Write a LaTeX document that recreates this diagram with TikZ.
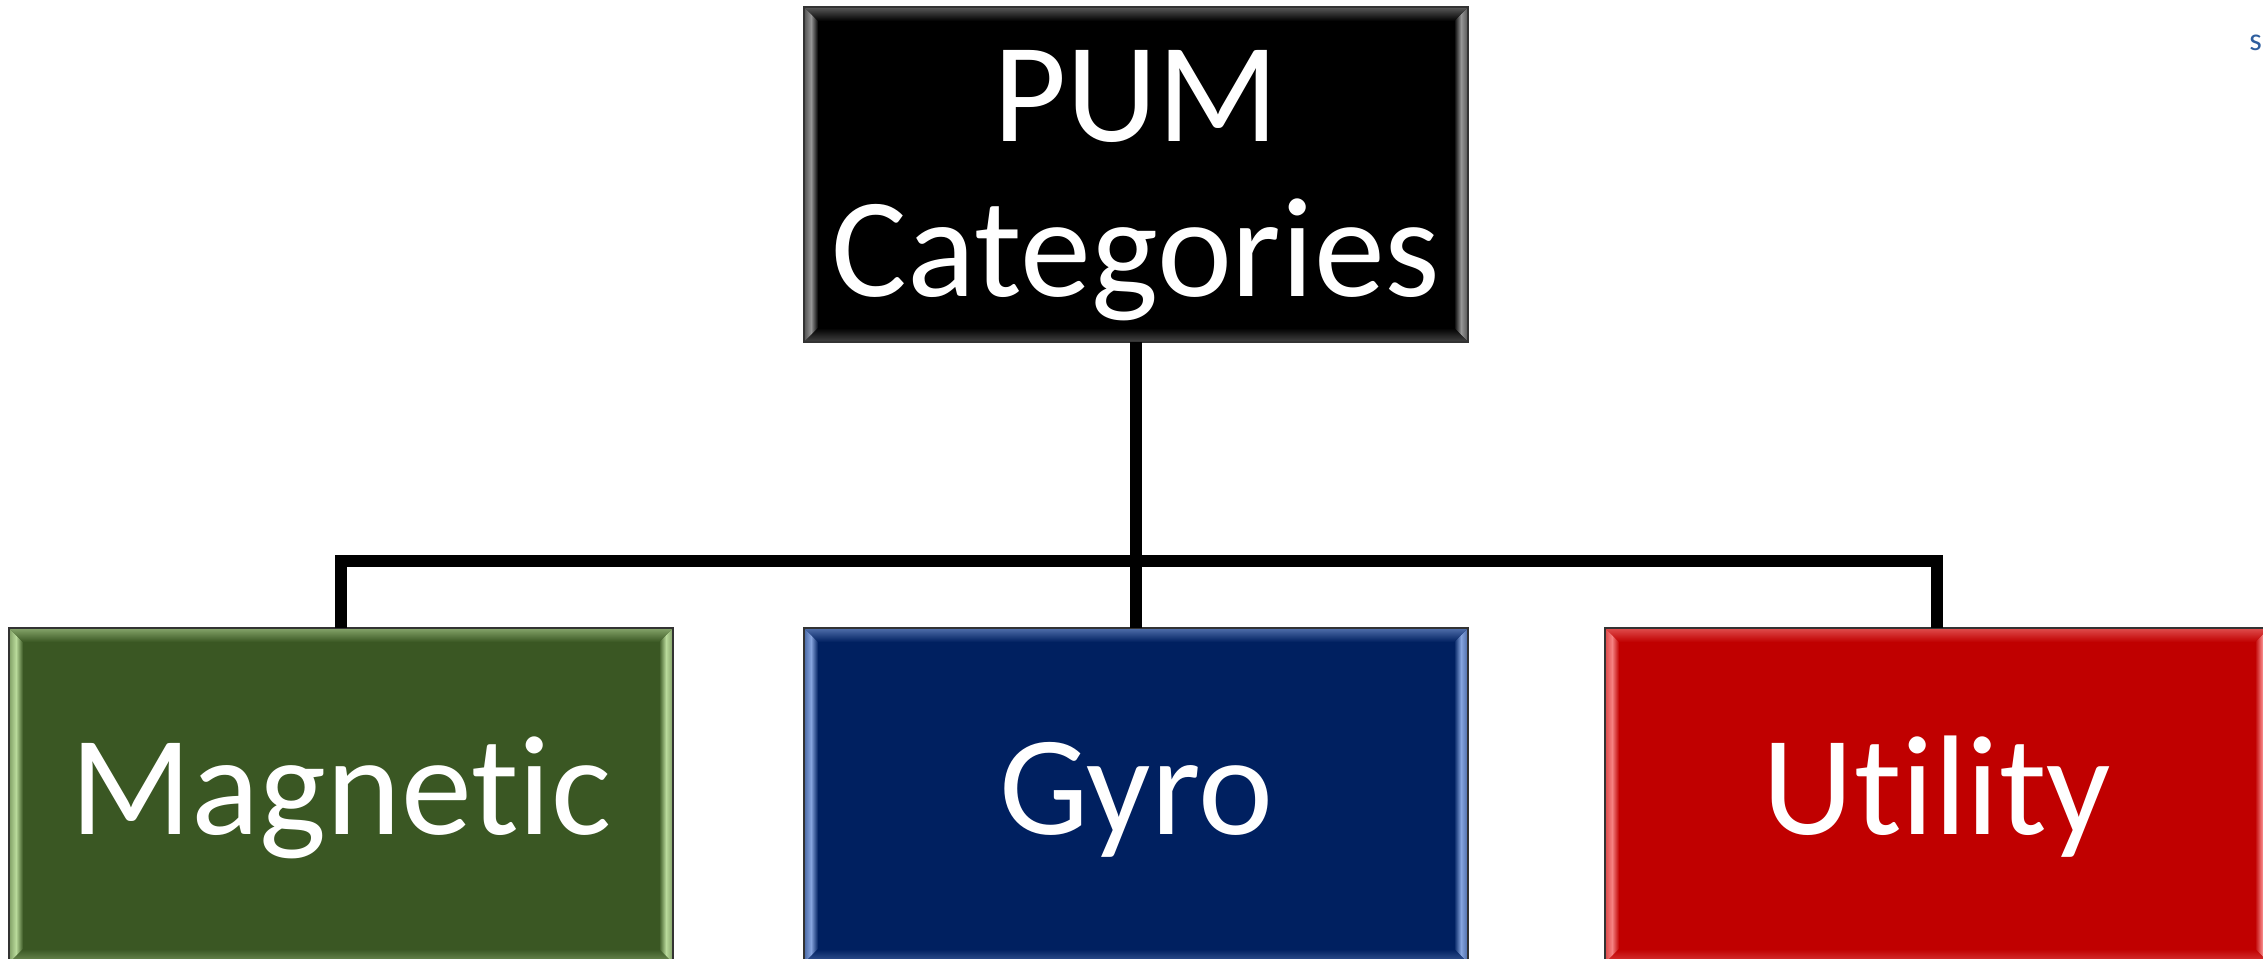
\documentclass[tikz,border=0pt]{standalone}
\usepackage{fontspec}
\setmainfont[Ligatures={NoCommon,NoRare}]{Carlito}

\definecolor{magfill}{RGB}{58,87,35}
\definecolor{gyrofill}{RGB}{0,32,96}
\definecolor{utilfill}{RGB}{192,0,0}
\definecolor{topl}{RGB}{150,150,150}
\definecolor{magl}{RGB}{185,218,155}
\definecolor{gyrol}{RGB}{135,165,222}
\definecolor{utill}{RGB}{245,130,130}
\definecolor{notecol}{RGB}{46,94,158}

\tikzset{
  catbox/.style={rectangle, inner sep=0pt, outer sep=0pt, minimum width=332pt, minimum height=167.5pt},
  cattext/.style={inner sep=0pt, text=white, align=center,
    font=\fontsize{71}{77.5}\selectfont},
  rim/.style={draw=black!80, line width=1pt},
  conn/.style={line width=6pt, black, line join=miter}
}

\begin{document}
\begin{tikzpicture}[x=0.5pt,y=-0.5pt]
\useasboundingbox (0,0) rectangle (2263,958);
\clip (0,0) rectangle (2263,958);

% box bodies
\node[catbox, fill=black] (top) at (1136,174.5) {};
\node[catbox, fill=magfill] (mag) at (341,795.5) {};
\node[catbox, fill=gyrofill] (gyro) at (1136,795.5) {};
\node[catbox, fill=utilfill] (utl) at (1937,795.5) {};

% bevelled rims: bright side strips, softer top and bottom strips
\foreach \n/\b/\l in {top/black/topl, mag/magfill/magl, gyro/gyrofill/gyrol, utl/utilfill/utill} {
  \shade[left color=\l!55!\b, right color=\b, middle color=\l]
    (\n.north west) -- ([shift={(7pt,-7pt)}]\n.north west)
    -- ([shift={(7pt,7pt)}]\n.south west) -- (\n.south west) -- cycle;
  \shade[left color=\b, right color=\l!55!\b, middle color=\l]
    (\n.north east) -- ([shift={(-7pt,-7pt)}]\n.north east)
    -- ([shift={(-7pt,7pt)}]\n.south east) -- (\n.south east) -- cycle;
  \shade[top color=\l!60!\b, bottom color=\b]
    (\n.north west) -- (\n.north east)
    -- ([shift={(-7pt,-7pt)}]\n.north east) -- ([shift={(7pt,-7pt)}]\n.north west) -- cycle;
  \shade[top color=\b, bottom color=\l!45!\b]
    (\n.south west) -- (\n.south east)
    -- ([shift={(-7pt,7pt)}]\n.south east) -- ([shift={(7pt,7pt)}]\n.south west) -- cycle;
  \draw[rim] (\n.north west) rectangle (\n.south east);
}

% labels
\node[cattext] (toptext) at ([yshift=-5.5pt]top.center) {PUM\\Categories};
\node[cattext, anchor=base] (magtext) at (341,834) {Magnetic};
\node[cattext, anchor=base] (gyrotext) at (1136,834) {Gyro};
\node[cattext, anchor=base] (utltext) at (1937,834) {Utility};

% connectors
\coordinate (hub) at (1136,561);
\draw[conn] (top.south) -- (hub);
\draw[conn] (mag.north) |- (hub) -| (utl.north);
\draw[conn] (hub) -- (gyro.north);

% small note in the corner
\node[anchor=base west, inner sep=0pt, text=notecol, font=\fontsize{16}{19}\selectfont] (note) at (2249,50) {s};
\end{tikzpicture}
\end{document}
